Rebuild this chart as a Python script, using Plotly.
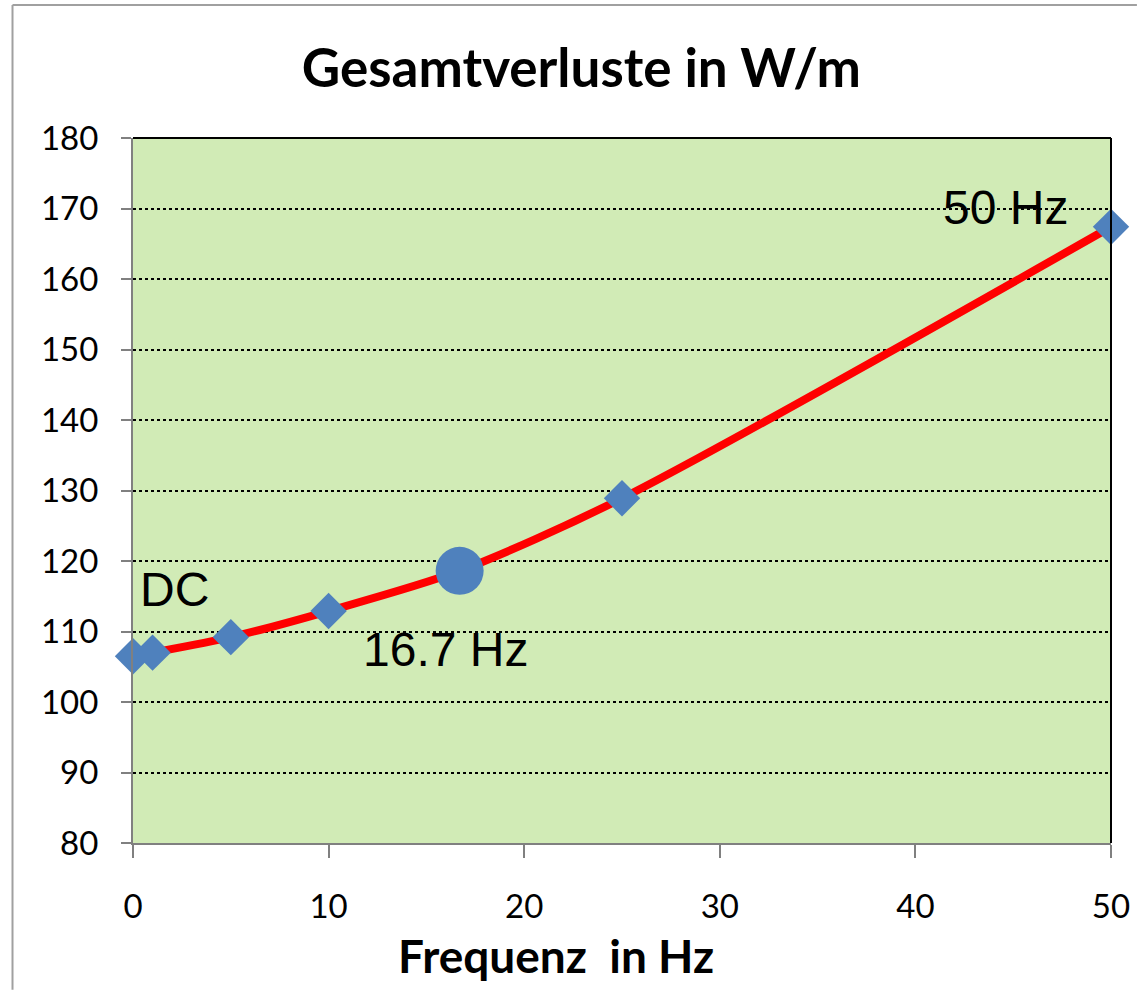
import plotly.graph_objects as go

freq = [0, 1, 5, 10, 16.7, 25, 50]
loss = [106.5, 107.0, 109.2, 112.9, 118.6, 128.9, 167.4]

diamond_x = [0, 1, 5, 10, 25, 50]
diamond_y = [106.5, 107.0, 109.2, 112.9, 128.9, 167.4]
circle_x = [16.7]
circle_y = [118.6]

x_ticks = [0, 10, 20, 30, 40, 50]
y_ticks = [80, 90, 100, 110, 120, 130, 140, 150, 160, 170, 180]

title_text = "Gesamtverluste in W/m"
x_title = "Frequenz  in Hz"
labels = [("DC", 0.25, 115.9), ("16.7 Hz", 11.66, 107.4), ("50 Hz", 41.3, 170.2)]

fig = go.Figure()
fig.add_trace(go.Scatter(x=freq, y=loss, mode="lines",
                         line=dict(color="#FF0000", width=8, shape="spline", smoothing=0.8),
                         hoverinfo="skip", showlegend=False, cliponaxis=False))
fig.add_trace(go.Scatter(x=diamond_x, y=diamond_y, mode="markers",
                         marker=dict(symbol="diamond", size=28, color="#4F81BD"),
                         showlegend=False, cliponaxis=False))
fig.add_trace(go.Scatter(x=circle_x, y=circle_y, mode="markers",
                         marker=dict(symbol="circle", size=48, color="#4F81BD"),
                         showlegend=False, cliponaxis=False))

for txt, xv, yv in labels:
    fig.add_annotation(x=xv, y=yv, text=txt, showarrow=False, xanchor="left", yanchor="middle",
                       font=dict(family="Liberation Sans, Arial", size=48, color="#000000"))

# x-axis title (placed left of centre as in the original)
fig.add_annotation(x=0.433, y=-0.159, xref="paper", yref="paper", text="<b>" + x_title + "</b>",
                   showarrow=False, xanchor="center", yanchor="middle",
                   font=dict(family="Lato, Open Sans", size=46, color="#000000"))

fig.update_layout(
    width=1142, height=990,
    margin=dict(l=133, r=27, t=138, b=147),
    paper_bgcolor="#FFFFFF",
    plot_bgcolor="#D1EBB6",
    title=dict(text="<b>" + title_text + "</b>", x=0.509, xanchor="center", y=0.931, yanchor="middle",
               font=dict(family="Lato, Open Sans", size=53, color="#000000")),
    font=dict(family="Lato, Open Sans", color="#000000"),
)
fig.update_xaxes(range=[0, 50], tickvals=x_ticks, showgrid=False, zeroline=False,
                 showline=True, linecolor="#808080", linewidth=2,
                 ticks="outside", ticklen=13, tickwidth=2, tickcolor="#808080",
                 tickfont=dict(size=33), ticklabelstandoff=20)
fig.update_yaxes(range=[80, 180], tickvals=y_ticks, showgrid=True, gridcolor="#000000",
                 griddash="dot", gridwidth=2, zeroline=False,
                 showline=True, linecolor="#808080", linewidth=2,
                 ticks="outside", ticklen=10, tickwidth=2, tickcolor="#808080",
                 tickfont=dict(size=33), ticklabelstandoff=16)

# plot area top/right border in black
fig.add_shape(type="line", xref="paper", yref="paper", x0=0, x1=1, y0=1, y1=1,
              line=dict(color="#000000", width=2))
fig.add_shape(type="line", xref="paper", yref="paper", x0=1, x1=1, y0=0, y1=1,
              line=dict(color="#000000", width=2))
# outer chart frame (left and top edges; the rest lies outside the picture)
fig.add_shape(type="line", xref="paper", yref="paper", x0=-0.1232, x1=-0.1232, y0=-0.208, y1=1.1887,
              line=dict(color="#A0A0A0", width=2), layer="below")
fig.add_shape(type="line", xref="paper", yref="paper", x0=-0.1232, x1=1.0265, y0=1.1887, y1=1.1887,
              line=dict(color="#A0A0A0", width=2), layer="below")

fig.write_html("out.html", config={"displayModeBar": False},
               post_script="document.body.style.margin='0';document.body.style.overflow='hidden';")
